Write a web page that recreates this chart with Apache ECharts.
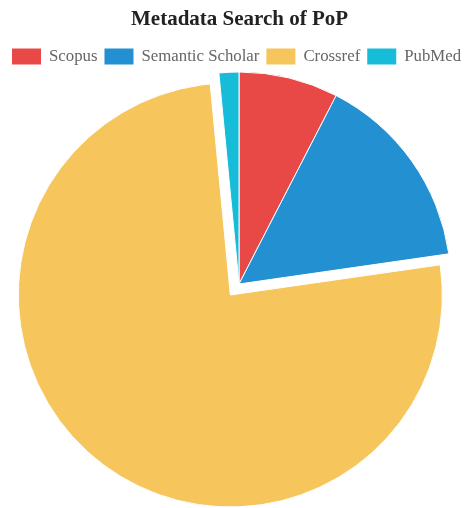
<!DOCTYPE html>
<html>
<head>
<meta charset="utf-8">
<script src="https://cdn.jsdelivr.net/npm/echarts@6/dist/echarts.min.js"></script>
<style>html,body{margin:0;padding:0;background:#fff}#c{width:467px;height:508px}</style>
</head>
<body>
<div id="c"></div>
<script>
const categories = ["Scopus", "Semantic Scholar", "Crossref", "PubMed"];
const values = [5, 10, 50, 1];
const colors = ["#e84846", "#2290d1", "#f6c55b", "#17bcd8"];
const explodedCategory = "Crossref";

const chart = echarts.init(document.getElementById('c'));
chart.setOption({
  animation: false,
  title: {
    text: "Metadata Search of PoP",
    left: 126,
    top: 4,
    textStyle: { fontFamily: '"Liberation Serif", serif', fontSize: 21, fontWeight: 'bold', color: '#222' }
  },
  legend: {
    data: categories,
    left: 7,
    top: 43,
    icon: 'rect',
    itemWidth: 29,
    itemHeight: 16,
    itemGap: 7,
    selectedMode: false,
    itemStyle: { borderWidth: 0 },
    textStyle: { fontFamily: '"Liberation Serif", serif', fontSize: 16.8, color: '#666', padding: [0, 0, 0, 3] }
  },
  series: [{
    type: 'pie',
    center: [239, 284],
    radius: 212,
    startAngle: 90,
    clockwise: true,
    selectedMode: 'single',
    selectedOffset: 14,
    label: { show: false },
    labelLine: { show: false },
    emphasis: { disabled: true },
    itemStyle: { borderColor: '#fff', borderWidth: 1 },
    data: categories.map((c, i) => ({
      name: c,
      value: values[i],
      selected: c === explodedCategory,
      itemStyle: { color: colors[i] }
    }))
  }]
});
</script>
</body>
</html>
